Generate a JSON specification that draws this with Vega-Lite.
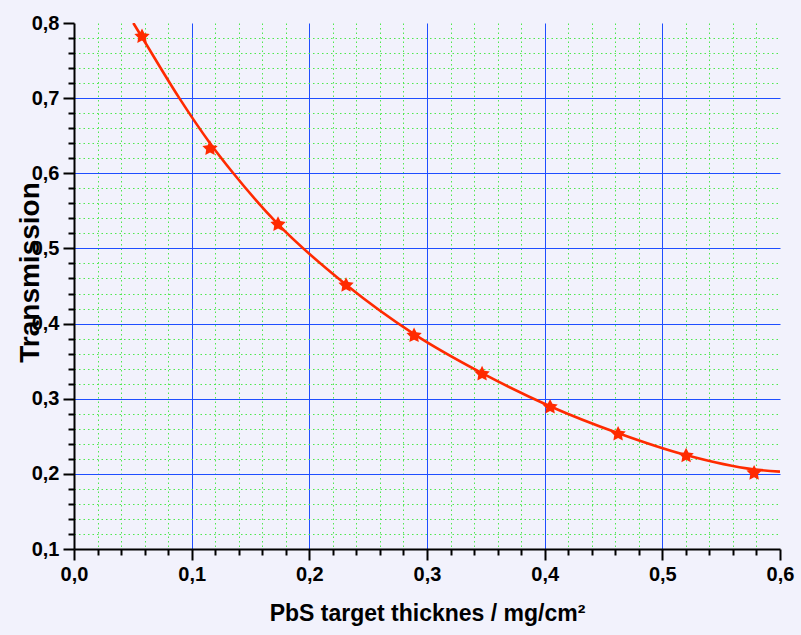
{
  "$schema": "https://vega.github.io/schema/vega-lite/v6.json",
  "width": 706,
  "height": 526,
  "autosize": "none",
  "padding": {"left": 74, "top": 23, "right": 21, "bottom": 86},
  "background": "#F2F2FC",
  "config": {
    "view": {"stroke": null},
    "font": "Liberation Sans",
    "axis": {
      "domainColor": "#000000",
      "domainWidth": 2,
      "tickColor": "#000000",
      "tickWidth": 2,
      "labelFont": "Liberation Sans",
      "labelFontWeight": "bold",
      "labelFontSize": 20,
      "labelColor": "#000000",
      "labelOverlap": false,
      "labelFlush": false,
      "titleFont": "Liberation Sans",
      "titleFontWeight": "bold",
      "titleColor": "#000000",
      "gridWidth": 1
    }
  },
  "datasets": {
    "curve": [
      {"x": 0.0504, "y": 0.800},
      {"x": 0.0578, "y": 0.781},
      {"x": 0.0895, "y": 0.700},
      {"x": 0.1156, "y": 0.640},
      {"x": 0.1354, "y": 0.600},
      {"x": 0.1729, "y": 0.533},
      {"x": 0.2310, "y": 0.452},
      {"x": 0.2890, "y": 0.386},
      {"x": 0.3468, "y": 0.334},
      {"x": 0.4045, "y": 0.290},
      {"x": 0.4627, "y": 0.254},
      {"x": 0.5199, "y": 0.225},
      {"x": 0.5774, "y": 0.206},
      {"x": 0.6000, "y": 0.203}
    ],
    "points": [
      {"x": 0.0578, "y": 0.782},
      {"x": 0.1156, "y": 0.633},
      {"x": 0.1734, "y": 0.532},
      {"x": 0.2312, "y": 0.451},
      {"x": 0.2890, "y": 0.384},
      {"x": 0.3468, "y": 0.333},
      {"x": 0.4046, "y": 0.289},
      {"x": 0.4624, "y": 0.253},
      {"x": 0.5202, "y": 0.224},
      {"x": 0.5780, "y": 0.201}
    ]
  },
  "encoding": {
    "x": {
      "field": "x",
      "type": "quantitative",
      "scale": {"domain": [0, 0.6], "nice": false, "zero": false},
      "axis": {
        "title": "PbS target thicknes / mg/cm²",
        "titleFontSize": 23,
        "titleY": 71,
        "titleBaseline": "alphabetic",
        "values": [0,0.02,0.04,0.06,0.08,0.1,0.12,0.14,0.16,0.18,0.2,0.22,0.24,0.26,0.28,0.3,0.32,0.34,0.36,0.38,0.4,0.42,0.44,0.46,0.48,0.5,0.52,0.54,0.56,0.58,0.6],
        "grid": true,
        "gridColor": {"condition": {"test": "abs(datum.value*10 - round(datum.value*10)) < 0.001", "value": "#1f4eff"}, "value": "#4fe84f"},
        "gridDash": {"condition": {"test": "abs(datum.value*10 - round(datum.value*10)) < 0.001", "value": []}, "value": [1.5, 3]},
        "gridOpacity": {"condition": {"test": "datum.value > 0.599 || datum.value < 0.001", "value": 0}, "value": 1},
        "tickSize": {"condition": {"test": "abs(datum.value*10 - round(datum.value*10)) < 0.001", "value": 11}, "value": 6},
        "labelPadding": 4,
        "labelExpr": "abs(datum.value*10 - round(datum.value*10)) < 0.001 ? replace(format(datum.value, '.1f'), '.', ',') : ''"
      }
    },
    "y": {
      "field": "y",
      "type": "quantitative",
      "scale": {"domain": [0.1, 0.8], "nice": false, "zero": false},
      "axis": {
        "title": "Transmission",
        "titleFontSize": 28,
        "titleAngle": -90,
        "titleX": -36,
        "titleY": 249,
        "titleAlign": "center",
        "titleBaseline": "alphabetic",
        "values": [0.1,0.12,0.14,0.16,0.18,0.2,0.22,0.24,0.26,0.28,0.3,0.32,0.34,0.36,0.38,0.4,0.42,0.44,0.46,0.48,0.5,0.52,0.54,0.56,0.58,0.6,0.62,0.64,0.66,0.68,0.7,0.72,0.74,0.76,0.78,0.8],
        "grid": true,
        "gridColor": {"condition": {"test": "abs(datum.value*10 - round(datum.value*10)) < 0.001", "value": "#1f4eff"}, "value": "#4fe84f"},
        "gridDash": {"condition": {"test": "abs(datum.value*10 - round(datum.value*10)) < 0.001", "value": []}, "value": [1.5, 3]},
        "gridOpacity": {"condition": {"test": "datum.value > 0.799 || datum.value < 0.101", "value": 0}, "value": 1},
        "tickSize": {"condition": {"test": "abs(datum.value*10 - round(datum.value*10)) < 0.001", "value": 11}, "value": 6},
        "labelPadding": 4,
        "labelExpr": "abs(datum.value*10 - round(datum.value*10)) < 0.001 ? replace(format(datum.value, '.1f'), '.', ',') : ''"
      }
    }
  },
  "layer": [
    {
      "data": {"name": "curve"},
      "mark": {"type": "line", "interpolate": "monotone", "color": "#ff2a00", "strokeWidth": 2.6, "clip": true}
    },
    {
      "data": {"name": "points"},
      "mark": {
        "type": "point",
        "shape": "M0,-1L0.294,-0.405L0.951,-0.309L0.476,0.155L0.588,0.809L0,0.5L-0.588,0.809L-0.476,0.155L-0.951,-0.309L-0.294,-0.405Z",
        "filled": true,
        "color": "#ff2a00",
        "size": 260,
        "opacity": 1
      }
    }
  ]
}
